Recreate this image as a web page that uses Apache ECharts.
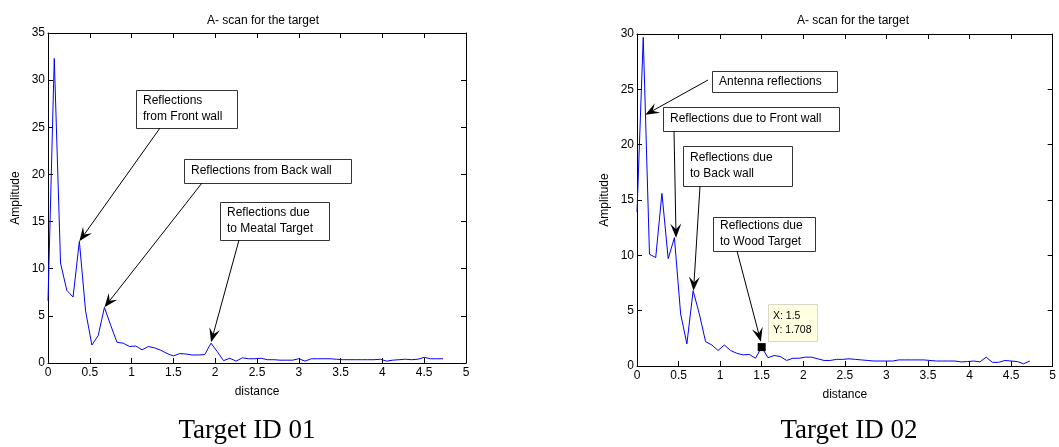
<!DOCTYPE html>
<html><head><meta charset="utf-8">
<script src="https://cdn.jsdelivr.net/npm/echarts@6/dist/echarts.min.js"></script>
<style>html,body{margin:0;padding:0;background:#fff}#c{width:1059px;height:447px}</style>
</head><body><div id="c"></div>
<script>
// ---- data ----
const distance = [0, 0.075, 0.15, 0.225, 0.3, 0.375, 0.45, 0.525, 0.6, 0.675, 0.75, 0.825, 0.9, 0.975, 1.05, 1.125,
  1.2, 1.275, 1.35, 1.425, 1.5, 1.575, 1.65, 1.725, 1.8, 1.875, 1.95, 2.025, 2.1, 2.175, 2.25, 2.325,
  2.4, 2.475, 2.55, 2.625, 2.7, 2.775, 2.85, 2.925, 3.0, 3.075, 3.15, 3.225, 3.3, 3.375, 3.45, 3.525,
  3.6, 3.675, 3.75, 3.825, 3.9, 3.975, 4.05, 4.125, 4.2, 4.275, 4.35, 4.425, 4.5, 4.575, 4.65, 4.725];
const amplitudeMetal = [6.6, 32.3, 10.6, 7.7, 7.0, 12.9, 5.5, 1.9, 2.9, 5.9, 4.0, 2.2, 2.1, 1.75, 1.8, 1.4,
  1.75, 1.6, 1.35, 1.0, 0.75, 1.0, 0.95, 0.85, 0.85, 0.9, 2.1, 1.2, 0.25, 0.5, 0.2, 0.55,
  0.45, 0.45, 0.5, 0.35, 0.35, 0.3, 0.3, 0.3, 0.45, 0.2, 0.45, 0.45, 0.45, 0.45, 0.4, 0.35,
  0.35, 0.35, 0.35, 0.35, 0.35, 0.4, 0.2, 0.3, 0.35, 0.4, 0.35, 0.4, 0.6, 0.45, 0.45, 0.45];
const amplitudeWood = [13.9, 29.7, 10.1, 9.8, 15.6, 9.7, 11.6, 4.7, 2.0, 6.8, 4.7, 2.2, 1.9, 1.4, 1.9, 1.4,
  1.15, 1.0, 1.05, 0.7, 1.708, 0.75, 0.95, 0.85, 0.5, 0.7, 0.7, 0.8, 0.8, 0.65, 0.5, 0.5,
  0.6, 0.6, 0.65, 0.6, 0.55, 0.5, 0.45, 0.45, 0.45, 0.45, 0.55, 0.55, 0.55, 0.55, 0.55, 0.5,
  0.45, 0.45, 0.45, 0.45, 0.37, 0.4, 0.45, 0.37, 0.8, 0.33, 0.33, 0.5, 0.45, 0.4, 0.2, 0.45];
const titles = ['A- scan for the target', 'A- scan for the target'];
const captions = ['Target ID 01', 'Target ID 02'];
const xLabel = 'distance';
const yLabel = 'Amplitude';
const yMax = [35, 30];
// annotation texts and the data point each arrow points at
const metalNotes = [
  { lines: ['Reflections', 'from Front wall'], at: [0.375, 12.9] },
  { lines: ['Reflections from Back wall'], at: [0.675, 5.9] },
  { lines: ['Reflections due', 'to Meatal Target'], at: [1.95, 2.2] }
];
const woodNotes = [
  { lines: ['Antenna reflections'], at: [0.1, 22.7] },
  { lines: ['Reflections due to Front wall'], at: [0.47, 11.6] },
  { lines: ['Reflections due', 'to Back wall'], at: [0.68, 6.8] },
  { lines: ['Reflections due', 'to Wood Target'], at: [1.49, 2.2] }
];
const dataTipPoint = [1.5, 1.708];

// ---- layout (pixels) ----
const FONT = '"Liberation Sans", Arial, sans-serif';
const grids = [
  { left: 48, top: 33, width: 418, height: 330 },
  { left: 637, top: 34, width: 420, height: 332 }
];
const metalBoxes = [
  { x: 136, y: 90, w: 101, h: 38, from: [160, 128] },
  { x: 184, y: 159, w: 167, h: 24, from: [202, 183] },
  { x: 220, y: 202, w: 109, h: 38, from: [239, 240] }
];
const woodBoxes = [
  { x: 712, y: 71, w: 125, h: 21, from: [708, 80] },
  { x: 663, y: 107, w: 176, h: 24, from: [674, 131] },
  { x: 683, y: 146, w: 109, h: 40, from: [700, 186] },
  { x: 713, y: 217, w: 102, h: 34, from: [737, 251] }
];

const chart = echarts.init(document.getElementById('c'), null, { renderer: 'canvas' });

function xAxes(gi) {
  const base = {
    gridIndex: gi, type: 'value', min: 0, max: 5, interval: 0.5,
    axisLine: { show: true, onZero: false, lineStyle: { color: '#000', width: 1 } },
    axisTick: { show: true, inside: true, length: 5, lineStyle: { color: '#000' } },
    splitLine: { show: false }
  };
  return [
    Object.assign({}, base, {
      position: 'bottom',
      axisLabel: { color: '#000', fontSize: 12, fontFamily: FONT, margin: 4 },
      name: xLabel, nameLocation: 'middle', nameGap: 23,
      nameTextStyle: { color: '#000', fontSize: 12, fontFamily: FONT }
    }),
    Object.assign({}, base, { position: 'top', axisLabel: { show: false } })
  ];
}
function yAxes(gi, max) {
  const base = {
    gridIndex: gi, type: 'value', min: 0, max: max, interval: 5,
    axisLine: { show: true, onZero: false, lineStyle: { color: '#000', width: 1 } },
    axisTick: { show: true, inside: true, length: 5, lineStyle: { color: '#000' } },
    splitLine: { show: false }
  };
  return [
    Object.assign({}, base, {
      position: 'left',
      axisLabel: { color: '#000', fontSize: 12, fontFamily: FONT, margin: 3 },
      name: yLabel, nameLocation: 'middle', nameGap: 26,
      nameTextStyle: { color: '#000', fontSize: 12, fontFamily: FONT }
    }),
    Object.assign({}, base, { position: 'right', axisLabel: { show: false } })
  ];
}

const lineStyle = { color: '#0000ff', width: 1 };
chart.setOption({
  animation: false,
  backgroundColor: '#fff',
  title: [
    { text: titles[0], left: 258, top: 10, textAlign: 'center',
      textStyle: { color: '#000', fontSize: 12, fontWeight: 'normal', fontFamily: FONT } },
    { text: titles[1], left: 848, top: 10, textAlign: 'center',
      textStyle: { color: '#000', fontSize: 12, fontWeight: 'normal', fontFamily: FONT } }
  ],
  grid: grids,
  xAxis: xAxes(0).concat(xAxes(1)),
  yAxis: yAxes(0, yMax[0]).concat(yAxes(1, yMax[1])),
  series: [
    { type: 'line', xAxisIndex: 0, yAxisIndex: 0, symbol: 'none', lineStyle: lineStyle,
      data: distance.map((d, i) => [d, amplitudeMetal[i]]) },
    { type: 'line', xAxisIndex: 2, yAxisIndex: 2, symbol: 'none', lineStyle: lineStyle,
      data: distance.map((d, i) => [d, amplitudeWood[i]]) },
    { type: 'scatter', xAxisIndex: 2, yAxisIndex: 2, symbol: 'rect', symbolSize: 8,
      itemStyle: { color: '#000', opacity: 1 }, data: [dataTipPoint], z: 5 }
  ]
});

function arrowGraphics(from, tip) {
  const dx = tip[0] - from[0], dy = tip[1] - from[1];
  const len = Math.sqrt(dx * dx + dy * dy);
  const ux = dx / len, uy = dy / len;
  const nx = -uy, ny = ux;
  const L = 14, W = 11;
  const bx = tip[0] - ux * L, by = tip[1] - uy * L;
  const notch = [tip[0] - ux * L * 0.6, tip[1] - uy * L * 0.6];
  return [
    { type: 'line', shape: { x1: from[0], y1: from[1], x2: notch[0], y2: notch[1] },
      style: { stroke: '#000', lineWidth: 1 }, z: 10 },
    { type: 'polygon', shape: { points: [tip, [bx + nx * W / 2, by + ny * W / 2], notch, [bx - nx * W / 2, by - ny * W / 2]] },
      style: { fill: '#000' }, z: 10 }
  ];
}
function boxGraphics(box, lines) {
  const out = [{ type: 'rect', shape: { x: box.x + 0.5, y: box.y + 0.5, width: box.w, height: box.h },
    style: { fill: '#fff', stroke: '#333', lineWidth: 1 }, z: 9 }];
  const lh = 16;
  const startY = box.y + box.h / 2 - (lines.length - 1) * lh / 2;
  lines.forEach((t, i) => {
    out.push({ type: 'text', x: box.x + 7, y: startY + i * lh, z: 11,
      style: { text: t, fill: '#000', font: '12px ' + FONT, textVerticalAlign: 'middle', textAlign: 'left' } });
  });
  return out;
}

const g = [];
metalNotes.forEach((n, i) => {
  const tip = chart.convertToPixel({ xAxisIndex: 0, yAxisIndex: 0 }, n.at);
  g.push(...arrowGraphics(metalBoxes[i].from, tip));
  g.push(...boxGraphics(metalBoxes[i], n.lines));
});
woodNotes.forEach((n, i) => {
  const tip = chart.convertToPixel({ xAxisIndex: 2, yAxisIndex: 2 }, n.at);
  g.push(...arrowGraphics(woodBoxes[i].from, tip));
  g.push(...boxGraphics(woodBoxes[i], n.lines));
});
g.push({ type: 'rect', shape: { x: 768.5, y: 304.5, width: 49, height: 37 },
  style: { fill: '#ffffe1', stroke: '#d8d8c8', lineWidth: 1 }, z: 9 });
g.push({ type: 'text', x: 773, y: 316, z: 11,
  style: { text: 'X: ' + dataTipPoint[0], fill: '#000', font: '10.5px ' + FONT, textVerticalAlign: 'middle' } });
g.push({ type: 'text', x: 773, y: 330, z: 11,
  style: { text: 'Y: ' + dataTipPoint[1], fill: '#000', font: '10.5px ' + FONT, textVerticalAlign: 'middle' } });
g.push({ type: 'text', x: 247, y: 431, z: 11,
  style: { text: captions[0], fill: '#000', font: '27px "Liberation Serif", "Times New Roman", serif', textAlign: 'center', textVerticalAlign: 'middle' } });
g.push({ type: 'text', x: 849, y: 431, z: 11,
  style: { text: captions[1], fill: '#000', font: '27px "Liberation Serif", "Times New Roman", serif', textAlign: 'center', textVerticalAlign: 'middle' } });

chart.setOption({ graphic: g });
</script>
</body></html>
